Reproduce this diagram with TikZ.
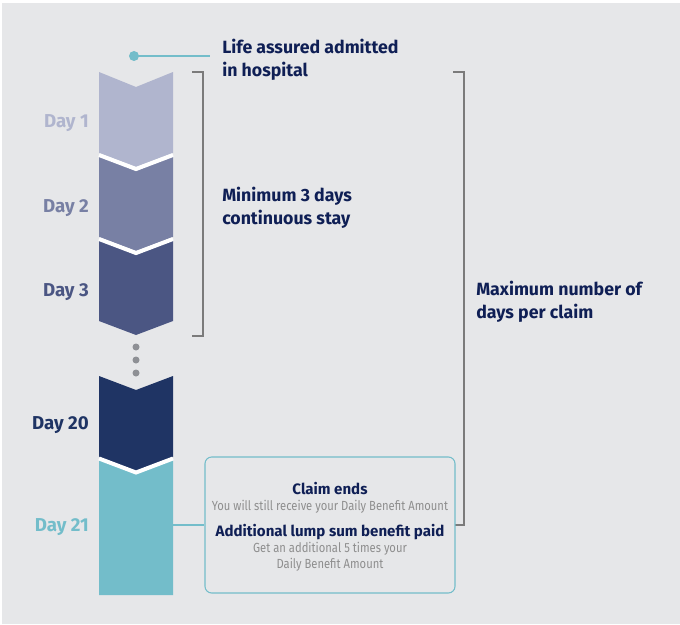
\documentclass[tikz,border=0pt]{standalone}
\usepackage{fontspec}
\setmainfont{Fira Sans}
\newfontfamily\narrowfont[FakeStretch=0.85]{Fira Sans}
\usepackage{tikz}
\usetikzlibrary{positioning,calc}

\definecolor{bgGray}{HTML}{E6E7E9}
\definecolor{dayA}{HTML}{B0B5CE}
\definecolor{dayB}{HTML}{7880A4}
\definecolor{dayC}{HTML}{4B5683}
\definecolor{dayT}{HTML}{1F3464}
\definecolor{dayE}{HTML}{73BDCA}
\definecolor{navy}{HTML}{0F1F55}
\definecolor{txtGray}{HTML}{8E8E8E}
\definecolor{brGray}{HTML}{7B7B7B}
\definecolor{dotGray}{HTML}{8E9095}

\begin{document}
\begin{tikzpicture}[x=0.75pt,y=-0.75pt,
  daylabel/.style={anchor=east, inner sep=0pt, font=\fontsize{14}{16}\bfseries},
  head/.style={anchor=west, align=left, text=navy, inner sep=0pt, font=\fontsize{13.3}{17}\bfseries},
  boldline/.style={text=navy, inner sep=0pt, font=\fontsize{11.3}{14}\bfseries},
  smallline/.style={text=txtGray, inner sep=0pt, align=center, font=\narrowfont\fontsize{9.9}{12}\selectfont},
  bracket/.style={draw=brGray, line width=1.1pt},
  seam/.style={draw=white, line width=3pt},
  infobox/.style={draw=dayE, rounded corners=5pt, line width=0.8pt, minimum width=250*0.75pt, minimum height=136*0.75pt, inner sep=0pt}]
\useasboundingbox (0,0) rectangle (680,624);
\fill[white] (0,0) rectangle (680,624);
\fill[bgGray] (2,3) rectangle (680,624);

% chevrons
\fill[dayA] (99,72) -- (136,87) -- (173,72) -- (173,153) -- (136,167) -- (99,153) -- cycle;
\fill[dayB] (99,156) -- (136,171) -- (173,156) -- (173,237) -- (136,251) -- (99,237) -- cycle;
\fill[dayC] (99,240) -- (136,255) -- (173,240) -- (173,321) -- (136,335) -- (99,321) -- cycle;
\fill[dayT] (99,376) -- (136,390) -- (173,376) -- (173,457) -- (136,471) -- (99,457) -- cycle;
\fill[dayE] (99,460) -- (136,474) -- (173,460) -- (173,595) -- (99,595) -- cycle;
\draw[seam] (99,155) -- (136,169) -- (173,155);
\draw[seam] (99,239) -- (136,253) -- (173,239);
\draw[seam] (99,458.5) -- (136,472.5) -- (173,458.5);

% dots
\fill[dotGray] (136,347) circle (3.5);
\fill[dotGray] (136,360) circle (3.5);
\fill[dotGray] (136,373) circle (3.5);

% day labels
\node[daylabel, text=dayA] (d1) at (89,123) {Day 1};
\node[daylabel, text=dayB] (d2) at (89,208) {Day 2};
\node[daylabel, text=dayC] (d3) at (89,292) {Day 3};
\node[daylabel, text=dayT] (d20) at (89,425) {Day 20};
\node[daylabel, text=dayE] (d21) at (89,527) {Day 21};

% admission
\coordinate (adm) at (134,56);
\node[head] (life) at (222,60) {Life assured admitted\\in hospital};
\fill[dayE] (adm) circle (5);
\draw[dayE, line width=0.8pt] (adm) -- (210,56);

% brackets
\draw[bracket] (192,72) -- (203,72) -- (203,336) -- (192,336);
\node[head] (minstay) at (222,208) {Minimum 3 days\\continuous stay};
\draw[bracket] (453,72) -- (464,72) -- (464,525) -- (455,525);
\node[head] (maxdays) at (476,302) {Maximum number of\\days per claim};

% claim box
\node[infobox] (box) at (330,525) {};
\node[boldline] (ends) at (330,489) {Claim ends};
\node[smallline] (still) at (330,507) {You will still receive your Daily Benefit Amount};
\node[boldline] (lump) at (330,532) {Additional lump sum benefit paid};
\node[smallline] (extra) at (330,557) {Get an additional 5 times your\\Daily Benefit Amount};
\coordinate (d21r) at (173,525);
\draw[dayE, line width=0.8pt] (d21r) -- (box.west);

\end{tikzpicture}
\end{document}
